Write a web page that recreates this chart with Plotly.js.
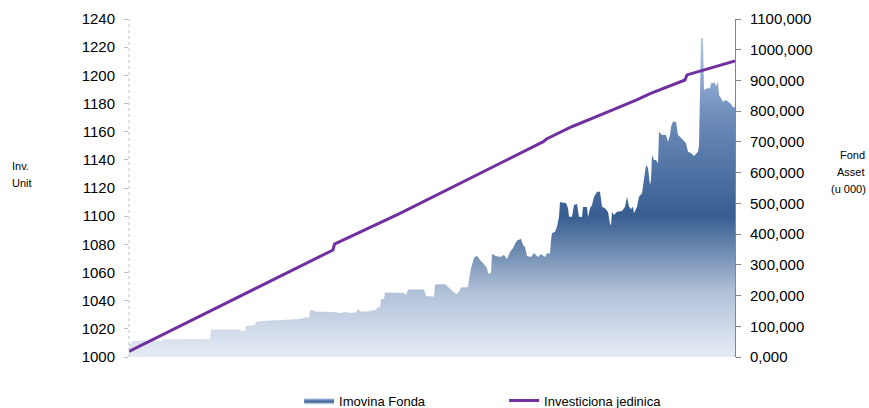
<!DOCTYPE html>
<html>
<head>
<meta charset="utf-8">
<script src="https://cdn.plot.ly/plotly-3.0.1.min.js"></script>
<style>
  html, body { margin: 0; padding: 0; background: #ffffff; }
  #chart { width: 869px; height: 408px; }
</style>
</head>
<body>
<div id="chart"></div>
<script>
// Fund assets (thousands), by trading day index
const assetDays = [0,2,3,31,33,34,81,82,111,112,116,117,126,127,133,161,171,176,180,181,184,186,204,211,217,221,227,229,232,238,243,247,249,251,252,255,256,275,277,279,295,297,305,306,316,319,323,327,329,332,337,339,340,342,345,347,349,351,354,356,358,359,362,363,367,371,375,378,381,384,387,389,392,394,396,398,402,405,409,412,416,418,421,422,423,426,428,430,431,434,437,439,440,443,445,448,450,453,454,458,459,461,463,465,468,471,473,476,479,481,482,483,485,488,493,496,498,500,502,504,505,508,510,513,515,516,517,519,520,521,522,523,525,527,529,530,533,537,539,541,542,544,547,549,551,554,556,557,559,562,565,567,569,570,571,572,574,575,578,581,582,584,585,587,589,590,592,594,597,600,602,604,606];
const assetValues = [42.3,42.3,53.0,53.0,50.4,57.6,58.6,89.5,89.5,84.6,84.6,100.9,104.1,113.9,117.2,120.4,123.7,128.5,128.5,151.3,153.0,148.1,146.4,143.2,146.4,143.2,144.8,156.2,148.1,148.1,149.7,153.0,162.7,159.5,188.8,188.8,209.9,208.3,201.8,219.7,219.7,198.5,196.9,235.9,236.6,227.8,214.8,205.0,208.3,226.2,226.8,227.8,252.9,288.7,322.2,328.7,325.4,315.7,305.9,296.2,289.6,272.4,272.4,335.2,328.7,325.4,331.9,318.9,341.7,354.7,374.3,380.8,384.0,364.5,358.0,328.7,325.4,338.4,325.4,335.2,325.4,337.5,336.8,380.8,402.6,407.8,424.1,456.6,504.4,502.2,501.2,484.9,456.6,456.6,494.7,497.9,456.6,455.6,488.2,488.2,454.6,483.9,494.7,521.7,537.9,537.9,489.1,483.9,471.9,432.8,429.6,472.9,462.1,472.9,475.1,489.1,521.7,489.1,481.7,489.1,467.7,489.1,521.7,532.7,576.0,608.6,624.8,615.0,576.0,559.8,576.0,657.4,641.1,641.1,630.4,733.2,722.5,722.5,700.7,722.5,749.5,765.8,765.8,722.5,717.0,706.2,700.7,695.5,668.1,663.7,654.1,660.5,668.1,689.9,847.1,1037.2,1037.2,868.9,874.5,874.5,890.7,890.7,895.9,881.9,895.0,852.6,841.9,830.8,836.4,827.6,823.4,812.6,813.6];

// Investment unit value
const unitDays = [0,103,171,204,205.5,258,271,377.7,414.3,417.5,442.7,471,507.7,521.7,556,558,606];
const unitValues = [1003.9,1040.5,1064.3,1076.0,1080.2,1097.3,1102.0,1139.9,1152.9,1154.8,1163.5,1171.8,1182.5,1187.2,1196.7,1200.3,1210.2];

const leftTicks = [1000,1020,1040,1060,1080,1100,1120,1140,1160,1180,1200,1220,1240];
const rightTicks = [0,100,200,300,400,500,600,700,800,900,1000,1100];

const FONT = 'Liberation Sans, Arial, sans-serif';

const traces = [
  {
    x: assetDays, y: assetValues,
    name: 'Imovina Fonda',
    type: 'scatter', mode: 'lines',
    line: {width: 0, color: '#4a6fa3'},
    fill: 'tozeroy',
    fillcolor: '#5a7fb0',
    fillgradient: {
      type: 'vertical',
      start: 0, stop: 1040,
      colorscale: [[0,'#e6ecf5'],[0.2,'#b2c2d9'],[0.44,'#375e91'],[0.75,'#6d8cba'],[1,'#b3c8e6']]
    },
    yaxis: 'y', hoverinfo: 'skip'
  },
  {
    x: unitDays, y: unitValues,
    name: 'Investiciona jedinica',
    type: 'scatter', mode: 'lines',
    line: {width: 3, color: '#7030a0'},
    yaxis: 'y2', hoverinfo: 'skip'
  }
];

const layout = {
  width: 869, height: 408,
  margin: {l: 129, r: 134, t: 19, b: 51},
  paper_bgcolor: '#ffffff', plot_bgcolor: '#ffffff',
  separators: ',.',
  font: {family: FONT, size: 14, color: '#000000'},
  showlegend: true,
  legend: {
    orientation: 'h', xref: 'container', yref: 'container',
    x: 0.3442, xanchor: 'left', y: 0.018, yanchor: 'middle',
    font: {family: FONT, size: 13, color: '#000000'},
    entrywidth: 160, traceorder: 'normal'
  },
  xaxis: {
    range: [0, 606], showgrid: false, zeroline: false,
    showticklabels: false, showline: false, ticks: ''
  },
  yaxis: {
    side: 'right', range: [0, 1100], tickvals: rightTicks,
    tickformat: '.3f', showgrid: false, zeroline: false,
    showline: true, linecolor: '#868686', linewidth: 1,
    ticks: 'outside', ticklen: 5, tickcolor: '#868686',
    ticklabelstandoff: 6,
    tickfont: {family: FONT, size: 15, color: '#000000'}
  },
  yaxis2: {
    overlaying: 'y', side: 'left', range: [1000, 1240], tickvals: leftTicks,
    showgrid: false, zeroline: false, showline: false,
    ticks: 'outside', ticklen: 4, tickcolor: '#bfbfbf',
    ticklabelstandoff: 6,
    tickfont: {family: FONT, size: 15, color: '#000000'}
  },
  shapes: [
    {type: 'line', xref: 'paper', yref: 'paper', x0: 0, x1: 0, y0: 0, y1: 1,
     line: {color: '#bfbfbf', width: 1, dash: 'dot'}}
  ],
  annotations: [
    {text: 'Inv.', xref: 'paper', yref: 'paper', x: -0.1964, y: 0.5651,
     xanchor: 'left', yanchor: 'middle', showarrow: false,
     font: {family: FONT, size: 11, color: '#000000'}},
    {text: 'Unit', xref: 'paper', yref: 'paper', x: -0.1964, y: 0.5148,
     xanchor: 'left', yanchor: 'middle', showarrow: false,
     font: {family: FONT, size: 11, color: '#000000'}},
    {text: 'Fond', xref: 'paper', yref: 'paper', x: 1.2178, y: 0.5976,
     xanchor: 'right', yanchor: 'middle', showarrow: false,
     font: {family: FONT, size: 11, color: '#000000'}},
    {text: 'Asset', xref: 'paper', yref: 'paper', x: 1.2178, y: 0.5473,
     xanchor: 'right', yanchor: 'middle', showarrow: false,
     font: {family: FONT, size: 11, color: '#000000'}},
    {text: '(u 000)', xref: 'paper', yref: 'paper', x: 1.2195, y: 0.4970,
     xanchor: 'right', yanchor: 'middle', showarrow: false,
     font: {family: FONT, size: 11, color: '#000000'}}
  ]
};

Plotly.newPlot('chart', traces, layout, {displayModeBar: false, staticPlot: true});
</script>
</body>
</html>
